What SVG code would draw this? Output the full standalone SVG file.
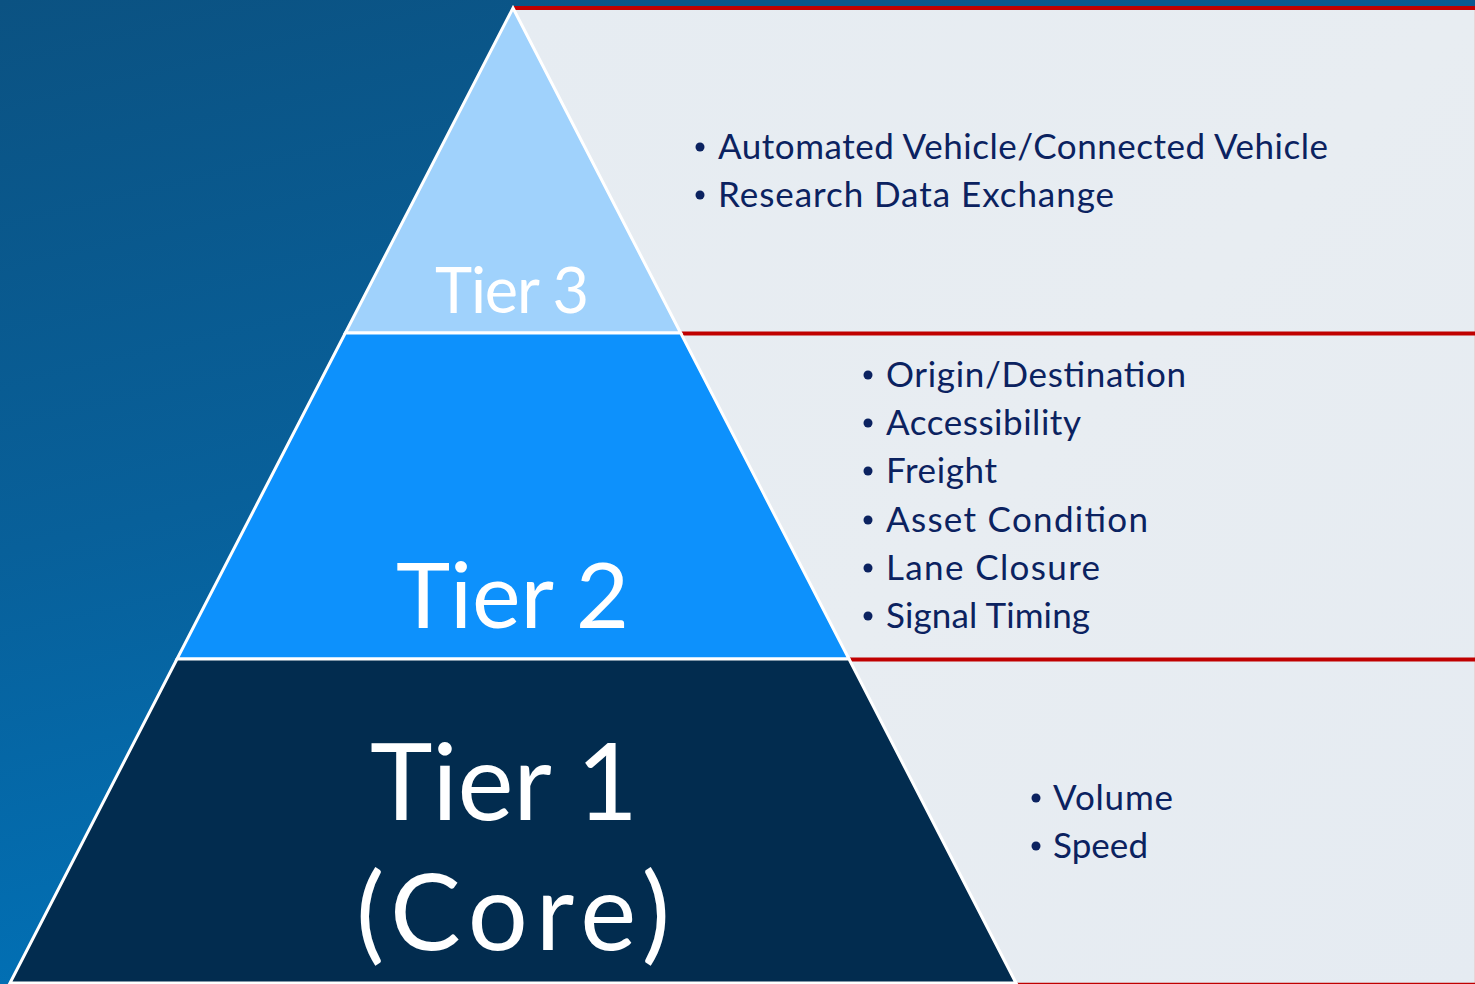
<svg xmlns="http://www.w3.org/2000/svg" width="1475" height="984" viewBox="0 0 1475 984">
  <defs>
    <linearGradient id="bg" x1="0" y1="0" x2="0.35" y2="1">
      <stop offset="0" stop-color="#0b5282"/>
      <stop offset="0.5" stop-color="#08609a"/>
      <stop offset="1" stop-color="#0073ba"/>
    </linearGradient>
    <linearGradient id="panel" x1="0" y1="0" x2="1" y2="1">
      <stop offset="0" stop-color="#e6ecf2"/>
      <stop offset="0.5" stop-color="#e8edf2"/>
      <stop offset="1" stop-color="#e5ebf2"/>
    </linearGradient>
  </defs>
  <style>
    .tier { stroke: #ffffff; stroke-width: 3; stroke-linejoin: miter; }
    .lbl { fill: #ffffff; font-family: Lato, "Open Sans", "Liberation Sans", sans-serif; }
    .item { fill: #0b2260; font-family: Lato, "Open Sans", "Liberation Sans", sans-serif; font-size: 35px; }
    .bullet { fill: #0b2260; }
    .red { stroke: #c00000; stroke-width: 4; fill: none; }
  </style>

  <rect x="0" y="0" width="1475" height="984" fill="url(#bg)"/>
  <polygon points="513,8 1475,8 1475,984 1016,984" fill="url(#panel)" stroke="#f2b8b8" stroke-width="1"/>

  <g id="dividers">
    <line class="red" x1="513" y1="8" x2="1475" y2="8"/>
    <line class="red" x1="681" y1="333.5" x2="1475" y2="333.5"/>
    <line class="red" x1="849" y1="659.5" x2="1475" y2="659.5"/>
    <line x1="1016" y1="983.5" x2="1475" y2="983.5" stroke="#c00000" stroke-width="1.5"/>
  </g>

  <g id="tier3">
    <polygon class="tier" points="513,8 680.7,333 345.3,333" fill="#a0d2fc"/>
    <text class="lbl" x="435" y="313" font-size="63" textLength="154">Tier 3</text>
  </g>

  <g id="tier2">
    <polygon class="tier" points="345.3,333 680.7,333 849,659 177,659" fill="#0d91fc"/>
    <text class="lbl" x="396" y="628" font-size="92" textLength="233">Tier 2</text>
  </g>

  <g id="tier1">
    <polygon class="tier" points="177,659 849,659 1016,983 10,983" fill="#022c4f"/>
    <text class="lbl" x="370" y="820" font-size="106" textLength="268">Tier 1</text>
    <text class="lbl" x="356" y="950" font-size="106" textLength="314">(Core)</text>
  </g>

  <g id="tier3-items">
    <circle class="bullet" cx="700" cy="147" r="4.5"/>
    <text class="item" x="718" y="159" textLength="610">Automated Vehicle/Connected Vehicle</text>
    <circle class="bullet" cx="700" cy="195" r="4.5"/>
    <text class="item" x="718" y="207" textLength="396">Research Data Exchange</text>
  </g>

  <g id="tier2-items">
    <circle class="bullet" cx="868" cy="375" r="4.5"/>
    <text class="item" x="886" y="387" textLength="300">Origin/Destination</text>
    <circle class="bullet" cx="868" cy="423" r="4.5"/>
    <text class="item" x="886" y="435" textLength="195">Accessibility</text>
    <circle class="bullet" cx="868" cy="471" r="4.5"/>
    <text class="item" x="886" y="483" textLength="111">Freight</text>
    <circle class="bullet" cx="868" cy="520" r="4.5"/>
    <text class="item" x="886" y="532" textLength="262">Asset Condition</text>
    <circle class="bullet" cx="868" cy="568" r="4.5"/>
    <text class="item" x="886" y="580" textLength="214">Lane Closure</text>
    <circle class="bullet" cx="868" cy="616" r="4.5"/>
    <text class="item" x="886" y="628" textLength="204">Signal Timing</text>
  </g>

  <g id="tier1-items">
    <circle class="bullet" cx="1036" cy="798" r="4.5"/>
    <text class="item" x="1053" y="810" textLength="120">Volume</text>
    <circle class="bullet" cx="1036" cy="846" r="4.5"/>
    <text class="item" x="1053" y="858" textLength="95">Speed</text>
  </g>
</svg>
